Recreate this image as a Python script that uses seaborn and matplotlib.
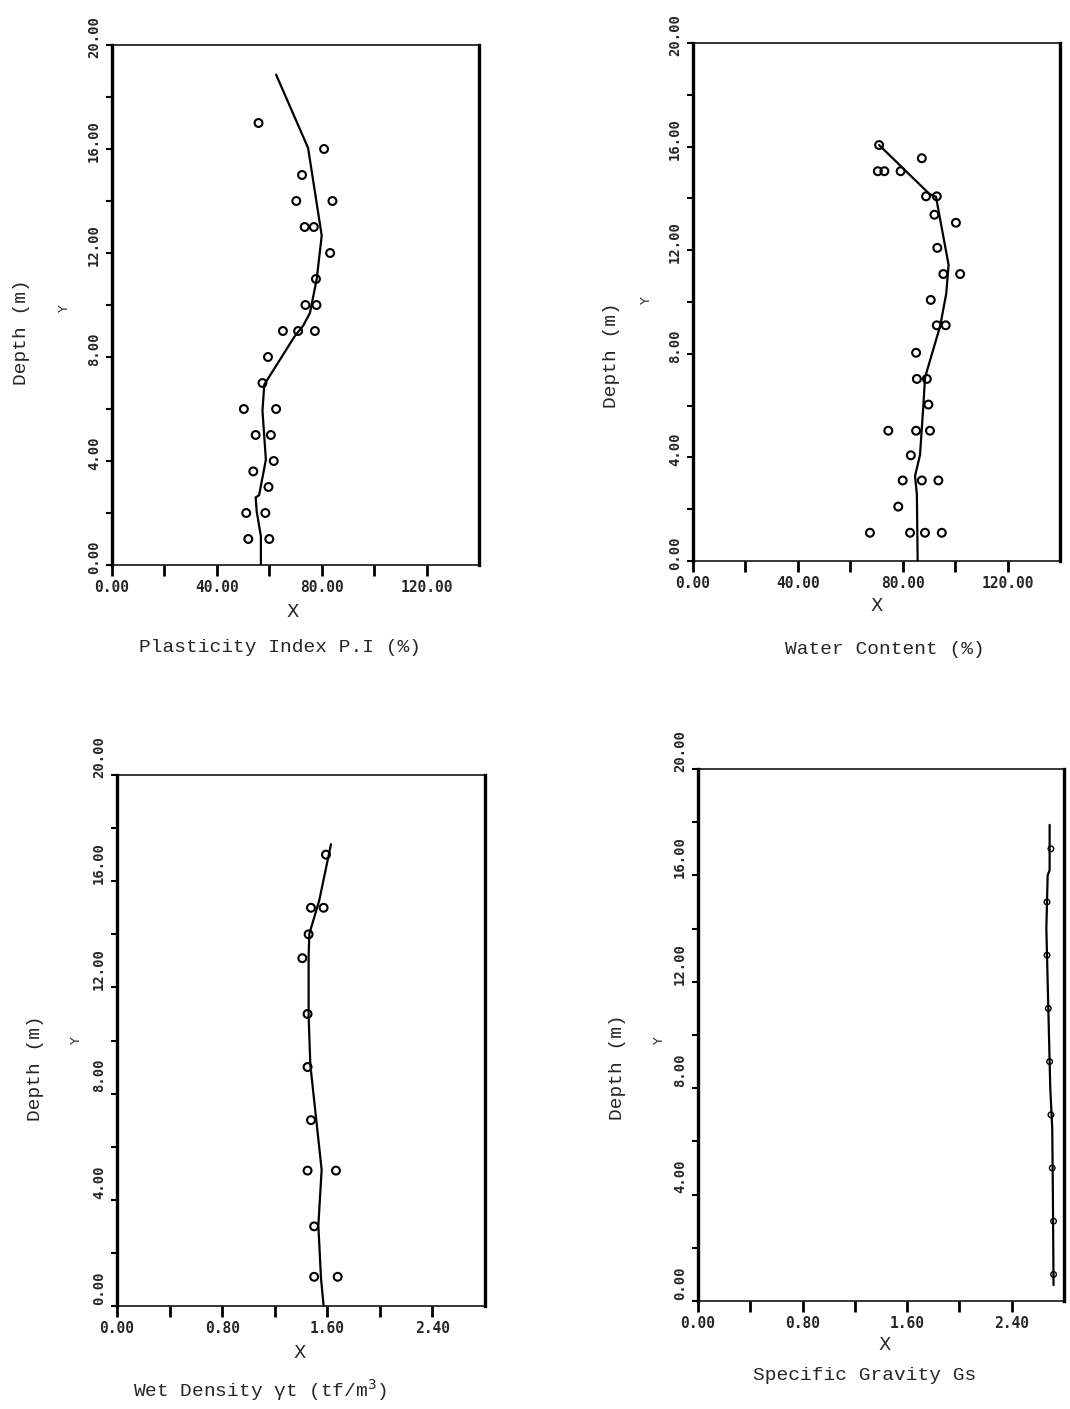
import matplotlib
matplotlib.use("Agg")
import matplotlib.pyplot as plt
import matplotlib.transforms as mtransforms
import pandas as pd
import seaborn as sns

# --- data ----------------------------------------------------------------
# Plasticity index (%)
pi_depth = [17.0, 16.0, 15.0, 14.0, 14.0, 13.0, 13.0, 12.0, 11.0, 10.0, 10.0,
            9.0, 9.0, 9.0, 8.0, 7.0, 6.0, 6.0, 5.0, 5.0, 4.0, 3.6, 3.0,
            2.0, 2.0, 1.0, 1.0]
pi_value = [55.9, 80.9, 72.5, 70.3, 84.1, 73.5, 77.0, 83.2, 77.8, 73.8, 78.0,
            65.2, 71.0, 77.4, 59.5, 57.4, 50.3, 62.6, 54.8, 60.6, 61.7, 53.9, 59.7,
            51.2, 58.5, 52.0, 60.0]
pi_line_depth = [18.86, 16.04, 12.67, 11.0, 9.69, 9.2, 8.8, 6.94, 5.94, 4.05,
                 2.68, 2.6, 2.06, 1.1, 0.0]
pi_line_value = [62.6, 74.8, 80.0, 78.1, 75.5, 72.9, 69.7, 58.1, 57.4, 58.7,
                 56.1, 54.8, 55.2, 56.8, 56.8]

# Water content (%)
wc_depth = [16.06, 15.55, 15.05, 15.05, 15.05, 14.08, 14.08, 13.37, 13.06, 12.09,
            11.08, 11.08, 10.08, 9.1, 9.1, 8.04, 7.03, 7.03, 6.04, 5.03, 5.03,
            5.03, 4.08, 3.11, 3.11, 3.11, 2.1, 1.09, 1.09, 1.09, 1.09]
wc_value = [71.0, 87.3, 70.5, 73.0, 79.2, 88.9, 93.0, 92.1, 100.3, 93.2,
            95.5, 101.9, 90.7, 93.0, 96.4, 85.1, 85.4, 89.2, 89.8, 74.5, 85.1,
            90.4, 83.1, 80.0, 87.3, 93.6, 78.3, 67.5, 82.8, 88.5, 94.9]
wc_line_depth = [16.06, 14.17, 14.06, 11.43, 10.32, 9.08, 7.08, 6.04, 4.1, 3.28, 2.58, 0.0]
wc_line_value = [71.0, 90.2, 92.7, 97.5, 96.6, 94.3, 88.5, 87.9, 86.6, 84.7, 85.4, 85.7]

# Wet density (tf/m3)
wd_depth = [17.0, 15.0, 15.0, 14.0, 13.1, 11.0, 9.0, 7.0, 5.1, 5.1, 3.0, 1.1, 1.1]
wd_value = [1.59, 1.476, 1.572, 1.458, 1.41, 1.45, 1.45, 1.476, 1.45, 1.666,
            1.50, 1.50, 1.679]
wd_line_depth = [17.39, 15.28, 14.01, 13.17, 10.92, 9.08, 7.11, 5.13, 3.03, 1.06, 0.0]
wd_line_value = [1.628, 1.539, 1.463, 1.458, 1.458, 1.471, 1.514, 1.557, 1.532, 1.552, 1.572]

# Specific gravity
gs_depth = [17.0, 15.0, 13.0, 11.0, 9.0, 7.0, 5.0, 3.0, 1.0]
gs_value = [2.70, 2.67, 2.67, 2.68, 2.69, 2.70, 2.71, 2.72, 2.72]
gs_line_depth = [17.9, 16.2, 16.0, 14.0, 12.0, 10.0, 8.0, 6.5, 4.0, 0.6]
gs_line_value = [2.69, 2.69, 2.675, 2.665, 2.675, 2.685, 2.695, 2.71, 2.715, 2.72]

pct_ticks = [0, 40, 80, 120]
pct_labels = ["0.00", "40.00", "80.00", "120.00"]
dens_ticks = [0, 0.8, 1.6, 2.4]
dens_labels = ["0.00", "0.80", "1.60", "2.40"]
depth_ticks = [0, 4, 8, 12, 16, 20]
depth_labels = ["0.00", "4.00", "8.00", "12.00", "16.00", "20.00"]

sns.set_style("ticks")
W, H = 1070, 1409
fig = plt.figure(figsize=(W / 100, H / 100), dpi=100)
MONO = "Liberation Mono"


def px_axes(l, t, r, b):
    return fig.add_axes([l / W, 1 - b / H, (r - l) / W, (b - t) / H])


def px_text(x, y, s, **kw):
    fig.text(x / W, 1 - y / H, s, ha="center", va="center", **kw)


def panel(ax, mx, my, lx, ly, xmax, xticks, xlabels, label_shift):
    sns.lineplot(x=lx, y=ly, ax=ax, sort=False, estimator=None,
                 color="black", lw=1.6)
    sns.scatterplot(x=mx, y=my, ax=ax, marker="o", s=32, facecolor="none",
                    edgecolor="black", linewidth=1.5)
    ax.set_xlim(0, xmax)
    ax.set_ylim(0, 20)
    ax.set_xticks(xticks)
    ax.set_xticklabels(xlabels, fontfamily="DejaVu Sans Mono",
                       fontweight="bold", fontsize=10.5)
    ax.set_xticks([xmax / 7 * k for k in (1, 3, 5)], minor=True)
    ax.set_yticks(depth_ticks)
    ax.set_yticklabels(depth_labels, fontfamily="DejaVu Sans Mono",
                       fontweight="bold", fontsize=10, rotation=90, va="center")
    ax.set_yticks([2, 6, 10, 14, 18], minor=True)
    ax.tick_params(axis="x", which="both", direction="out", length=8,
                   width=2, pad=3, color="black")
    ax.tick_params(axis="y", which="both", direction="out", length=4,
                   width=1.5, pad=4, color="black")
    shift = mtransforms.ScaledTranslation(0, label_shift / 100, fig.dpi_scale_trans)
    for lab in ax.get_yticklabels():
        lab.set_transform(lab.get_transform() + shift)
    for side in ["left", "right"]:
        ax.spines[side].set_linewidth(2.4)
    for side in ["top", "bottom"]:
        ax.spines[side].set_linewidth(1.1)
    for sp in ax.spines.values():
        sp.set_color("black")
    ax.set_xlabel("")
    ax.set_ylabel("")


ax1 = px_axes(112, 45, 479, 565)
panel(ax1, pi_value, pi_depth, pi_line_value, pi_line_depth,
      140, pct_ticks, pct_labels, 8)
ax2 = px_axes(693, 43, 1060, 561)
panel(ax2, wc_value, wc_depth, wc_line_value, wc_line_depth,
      140, pct_ticks, pct_labels, 8)
ax3 = px_axes(117, 775, 485, 1306)
panel(ax3, wd_value, wd_depth, wd_line_value, wd_line_depth,
      2.8, dens_ticks, dens_labels, 18)
ax4 = px_axes(698, 769, 1064, 1301)
panel(ax4, gs_value, gs_depth, gs_line_value, gs_line_depth,
      2.8, dens_ticks, dens_labels, 18)
ax4.collections[0].set_sizes([16])
ax4.collections[0].set_linewidth(1.0)

# axis titles
lab_kw = dict(fontfamily=MONO, fontsize=14)
px_text(280, 648, "Plasticity Index P.I (%)", **lab_kw)
px_text(885, 650, "Water Content (%)", **lab_kw)
px_text(260, 1390, "Wet Density \u03b3t (tf/m$^3$)", **lab_kw)
px_text(865, 1375, "Specific Gravity Gs", **lab_kw)

for x, y in [(293, 612), (877, 606), (300, 1353), (885, 1345)]:
    px_text(x, y, "X", fontfamily="DejaVu Sans", fontsize=13)

for x, y in [(22, 332), (612, 355), (35, 1068), (618, 1067)]:
    px_text(x, y, "Depth (m)", rotation=90, **lab_kw)

for x, y in [(64, 308), (646, 300), (76, 1040), (659, 1040)]:
    px_text(x, y, "Y", rotation=90, fontfamily="DejaVu Sans", fontsize=9)

fig.savefig("out.png", dpi=100, facecolor="white")
